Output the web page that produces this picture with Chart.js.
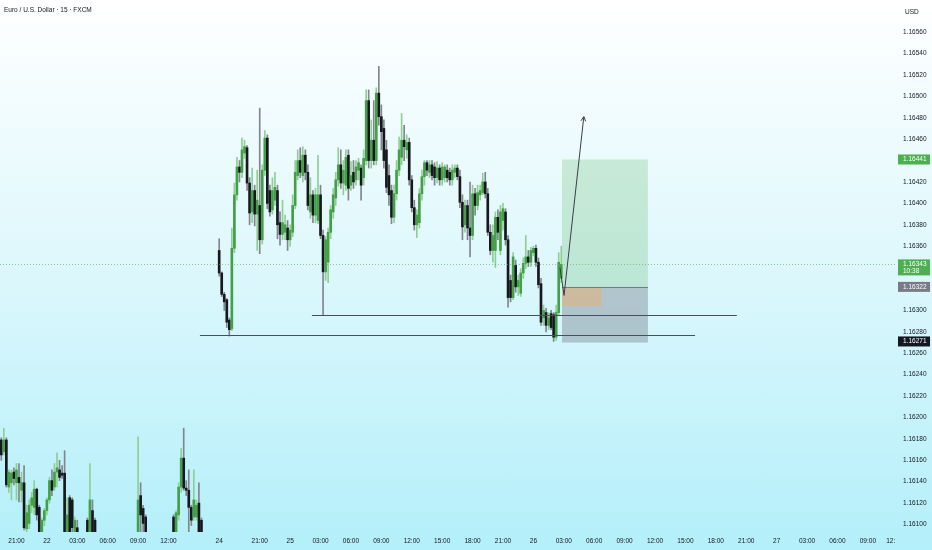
<!DOCTYPE html>
<html>
<head>
<meta charset="utf-8">
<script src="https://cdn.jsdelivr.net/npm/chart.js@4/dist/chart.umd.min.js"></script>
<style>
  html, body { margin: 0; padding: 0; }
  body {
    width: 932px; height: 550px; overflow: hidden;
    background: linear-gradient(to bottom, #ffffff 0%, #e0f8fc 45%, #b3effa 100%);
  }
  canvas { display: block; }
</style>
</head>
<body>
<canvas id="chart" width="932" height="550"></canvas>
<script>
// EUR/USD 15m, FXCM - свечи
const gap = n => Array(n).fill(null);

const opens = [
  1.16179, 1.16168, 1.16179, 1.16135, 1.16139, 1.16149, 1.16139, 1.16144, 1.16132, 1.16139,
  1.16096, 1.16101, 1.16118, 1.16116, 1.16133, 1.16116, 1.16085, 1.16104, 1.16113, 1.16123,
  1.16141, 1.16135, 1.16149, 1.16151, 1.16148, 1.16148, 1.16085, 1.16125, 1.16123, 1.16085,
  1.16097, ...gap(3), 1.16104, 1.16081, 1.16113, 1.16104, ...gap(16),
  1.16081, 1.16127, 1.16115, 1.16107, ...gap(10), 1.16107, 1.16081,
  1.16109, 1.16135, 1.16162, 1.16134, 1.16132, 1.16116, 1.16107, 1.16107, 1.16120, 1.16104,
  ...gap(6), 1.16356, 1.16335, 1.16315, 1.16310,
  1.16291, 1.16283, 1.16358, 1.16408, 1.16434, 1.16429, 1.16447, 1.16452, 1.16419, 1.16392,
  1.16412, 1.16390, 1.16398, 1.16366, 1.16431, 1.16461, 1.16412, 1.16394, 1.16403, 1.16412,
  1.16382, 1.16371, 1.16373, 1.16377, 1.16366, 1.16373, 1.16398, 1.16426, 1.16440, 1.16426,
  1.16445, 1.16429, 1.16392, 1.16408, 1.16389, 1.16384, 1.16408, 1.16370, 1.16336, 1.16345,
  1.16373, 1.16392, 1.16405, 1.16422, 1.16436, 1.16419, 1.16417, 1.16445, 1.16417, 1.16429,
  1.16422, 1.16431, 1.16433, 1.16424, 1.16440, 1.16496, 1.16440, 1.16459, 1.16440, 1.16503,
  1.16481, 1.16470, 1.16450, 1.16426, 1.16412, 1.16387, 1.16409, 1.16431, 1.16443, 1.16459,
  1.16450, 1.16457, 1.16422, 1.16396, 1.16380, 1.16382, 1.16409, 1.16425, 1.16438, 1.16429,
  1.16436, 1.16434, 1.16424, 1.16433, 1.16422, 1.16424, 1.16431, 1.16429, 1.16422, 1.16429,
  1.16433, 1.16425, 1.16401, 1.16380, 1.16398, 1.16377, 1.16370, 1.16409, 1.16398, 1.16408,
  1.16410, 1.16420, 1.16409, 1.16373, 1.16356, 1.16356, 1.16387, 1.16356, 1.16384, 1.16392,
  1.16366, 1.16328, 1.16312, 1.16342, 1.16322, 1.16316, 1.16335, 1.16344, 1.16350, 1.16345,
  1.16354, 1.16358, 1.16345, 1.16325, 1.16293, 1.16298, 1.16286, 1.16297, 1.16296, 1.16275,
  1.16298, 1.16330
];

const highs = [
  1.16181, 1.16190, 1.16181, 1.16151, 1.16151, 1.16153, 1.16157, 1.16157, 1.16149, 1.16155,
  1.16118, 1.16123, 1.16130, 1.16141, 1.16134, 1.16118, 1.16106, 1.16115, 1.16125, 1.16144,
  1.16151, 1.16157, 1.16167, 1.16160, 1.16155, 1.16169, 1.16125, 1.16127, 1.16125, 1.16107,
  1.16104, ...gap(3), 1.16106, 1.16157, 1.16123, 1.16106, ...gap(16),
  1.16182, 1.16139, 1.16118, 1.16109, ...gap(10), 1.16109, 1.16113,
  1.16139, 1.16171, 1.16190, 1.16141, 1.16151, 1.16118, 1.16151, 1.16123, 1.16139, 1.16106,
  ...gap(6), 1.16367, 1.16336, 1.16317, 1.16311,
  1.16293, 1.16377, 1.16419, 1.16443, 1.16440, 1.16461, 1.16459, 1.16454, 1.16424, 1.16433,
  1.16417, 1.16431, 1.16489, 1.16436, 1.16468, 1.16464, 1.16417, 1.16424, 1.16429, 1.16417,
  1.16392, 1.16403, 1.16389, 1.16384, 1.16380, 1.16408, 1.16440, 1.16450, 1.16452, 1.16453,
  1.16450, 1.16436, 1.16424, 1.16412, 1.16414, 1.16445, 1.16417, 1.16375, 1.16369, 1.16377,
  1.16398, 1.16414, 1.16429, 1.16452, 1.16450, 1.16440, 1.16450, 1.16450, 1.16439, 1.16440,
  1.16440, 1.16442, 1.16436, 1.16450, 1.16506, 1.16506, 1.16478, 1.16496, 1.16508, 1.16528,
  1.16492, 1.16478, 1.16459, 1.16436, 1.16417, 1.16417, 1.16440, 1.16462, 1.16484, 1.16473,
  1.16464, 1.16461, 1.16426, 1.16403, 1.16394, 1.16414, 1.16431, 1.16440, 1.16440, 1.16440,
  1.16440, 1.16438, 1.16439, 1.16436, 1.16438, 1.16436, 1.16436, 1.16433, 1.16436, 1.16436,
  1.16436, 1.16431, 1.16408, 1.16403, 1.16403, 1.16420, 1.16417, 1.16414, 1.16417, 1.16417,
  1.16428, 1.16429, 1.16414, 1.16380, 1.16380, 1.16392, 1.16394, 1.16398, 1.16400, 1.16395,
  1.16370, 1.16333, 1.16354, 1.16347, 1.16333, 1.16339, 1.16349, 1.16370, 1.16356, 1.16359,
  1.16360, 1.16361, 1.16349, 1.16330, 1.16305, 1.16302, 1.16298, 1.16300, 1.16298, 1.16305,
  1.16354, 1.16360
];

const lows = [
  1.16160, 1.16165, 1.16135, 1.16130, 1.16123, 1.16137, 1.16123, 1.16121, 1.16121, 1.16095,
  1.16093, 1.16096, 1.16111, 1.16109, 1.16104, 1.16081, 1.16081, 1.16099, 1.16109, 1.16120,
  1.16127, 1.16132, 1.16135, 1.16141, 1.16143, 1.16081, 1.16081, 1.16081, 1.16090, 1.16081,
  1.16081, ...gap(3), 1.16081, 1.16078, 1.16081, 1.16078, ...gap(16),
  1.16078, 1.16085, 1.16081, 1.16078, ...gap(10), 1.16078, 1.16078,
  1.16104, 1.16130, 1.16132, 1.16127, 1.16085, 1.16099, 1.16104, 1.16104, 1.16081, 1.16078,
  ...gap(6), 1.16332, 1.16313, 1.16300, 1.16284,
  1.16276, 1.16281, 1.16354, 1.16403, 1.16420, 1.16424, 1.16442, 1.16412, 1.16380, 1.16382,
  1.16379, 1.16356, 1.16353, 1.16362, 1.16426, 1.16395, 1.16388, 1.16390, 1.16398, 1.16367,
  1.16361, 1.16366, 1.16366, 1.16356, 1.16360, 1.16369, 1.16395, 1.16422, 1.16424, 1.16420,
  1.16422, 1.16394, 1.16386, 1.16382, 1.16382, 1.16381, 1.16367, 1.16296, 1.16328, 1.16326,
  1.16367, 1.16386, 1.16398, 1.16416, 1.16414, 1.16408, 1.16412, 1.16403, 1.16412, 1.16414,
  1.16417, 1.16422, 1.16403, 1.16417, 1.16436, 1.16433, 1.16433, 1.16436, 1.16436, 1.16473,
  1.16450, 1.16433, 1.16410, 1.16398, 1.16381, 1.16382, 1.16403, 1.16426, 1.16436, 1.16440,
  1.16442, 1.16417, 1.16392, 1.16375, 1.16368, 1.16377, 1.16403, 1.16417, 1.16426, 1.16424,
  1.16422, 1.16417, 1.16419, 1.16417, 1.16417, 1.16420, 1.16420, 1.16417, 1.16417, 1.16424,
  1.16422, 1.16396, 1.16366, 1.16373, 1.16366, 1.16350, 1.16366, 1.16389, 1.16394, 1.16403,
  1.16408, 1.16405, 1.16370, 1.16352, 1.16345, 1.16340, 1.16366, 1.16352, 1.16375, 1.16361,
  1.16303, 1.16308, 1.16310, 1.16317, 1.16314, 1.16313, 1.16330, 1.16339, 1.16341, 1.16341,
  1.16351, 1.16341, 1.16321, 1.16286, 1.16286, 1.16280, 1.16282, 1.16282, 1.16271, 1.16272,
  1.16296, 1.16326
];

const closes = [
  1.16165, 1.16179, 1.16137, 1.16149, 1.16148, 1.16143, 1.16151, 1.16139, 1.16139, 1.16097,
  1.16111, 1.16118, 1.16125, 1.16133, 1.16109, 1.16085, 1.16104, 1.16113, 1.16123, 1.16141,
  1.16132, 1.16149, 1.16153, 1.16144, 1.16146, 1.16092, 1.16109, 1.16085, 1.16097, 1.16104,
  1.16085, ...gap(3), 1.16085, 1.16123, 1.16085, 1.16081, ...gap(16),
  1.16123, 1.16109, 1.16101, 1.16081, ...gap(10), 1.16081, 1.16111,
  1.16135, 1.16162, 1.16134, 1.16132, 1.16116, 1.16104, 1.16123, 1.16118, 1.16092, 1.16081,
  ...gap(6), 1.16335, 1.16315, 1.16308, 1.16289,
  1.16282, 1.16358, 1.16408, 1.16434, 1.16429, 1.16450, 1.16453, 1.16419, 1.16391, 1.16412,
  1.16390, 1.16403, 1.16366, 1.16431, 1.16461, 1.16400, 1.16392, 1.16412, 1.16415, 1.16380,
  1.16371, 1.16382, 1.16380, 1.16366, 1.16375, 1.16398, 1.16429, 1.16440, 1.16429, 1.16445,
  1.16429, 1.16398, 1.16408, 1.16389, 1.16408, 1.16408, 1.16370, 1.16336, 1.16366, 1.16373,
  1.16394, 1.16408, 1.16422, 1.16436, 1.16419, 1.16431, 1.16443, 1.16414, 1.16426, 1.16420,
  1.16434, 1.16438, 1.16417, 1.16442, 1.16496, 1.16440, 1.16459, 1.16440, 1.16503, 1.16481,
  1.16467, 1.16440, 1.16415, 1.16408, 1.16387, 1.16409, 1.16431, 1.16450, 1.16459, 1.16453,
  1.16457, 1.16422, 1.16396, 1.16380, 1.16389, 1.16409, 1.16425, 1.16438, 1.16431, 1.16436,
  1.16426, 1.16424, 1.16433, 1.16422, 1.16434, 1.16434, 1.16424, 1.16422, 1.16431, 1.16433,
  1.16425, 1.16401, 1.16378, 1.16398, 1.16377, 1.16370, 1.16409, 1.16398, 1.16410, 1.16412,
  1.16420, 1.16409, 1.16373, 1.16356, 1.16370, 1.16387, 1.16373, 1.16392, 1.16395, 1.16366,
  1.16312, 1.16312, 1.16350, 1.16322, 1.16328, 1.16335, 1.16344, 1.16350, 1.16345, 1.16356,
  1.16358, 1.16345, 1.16324, 1.16289, 1.16300, 1.16286, 1.16293, 1.16284, 1.16275, 1.16298,
  1.16345, 1.16343
];

// подписи оси времени: индекс свечи -> текст
const slotCount = 354;
const timeTickIdx = [6, 18, 30, 42, 54, 66, 86, 102, 114, 126, 138, 150, 162, 174, 186, 198, 210,
                     222, 234, 246, 258, 270, 282, 294, 306, 318, 330, 342, 351];
const timeTickText = ['21:00', '22', '03:00', '06:00', '09:00', '12:00', '24', '21:00', '25', '03:00',
                      '06:00', '09:00', '12:00', '15:00', '18:00', '21:00', '26', '03:00', '06:00',
                      '09:00', '12:00', '15:00', '18:00', '21:00', '27', '03:00', '06:00', '09:00', '12:'];
const topPriceTick = 1.16560;

// разметка на графике (индекс свечи, цена)
const levelLines = [
  { from: 78.4, to: 273.8, price: 1.16277 },
  { from: 122.6, to: 290.3, price: 1.16296 }
];
const longPos = { from: 221.3, to: 255.2, target: 1.16441, entry: 1.16322, stop: 1.16270, pnlTo: 237, pnlPrice: 1.16304 };
const arrowPath = [[220.5, 1.16340], [222.1, 1.16314], [229.9, 1.16481]];
const lastPrice = 1.16343;
const priceTags = [
  { price: 1.16441, text: '1.16441', bg: '#4caf50' },
  { price: 1.16343, text: '1.16343', sub: '10:38', bg: '#4caf50' },
  { price: 1.16322, text: '1.16322', bg: '#787b86' },
  { price: 1.16271, text: '1.16271', bg: '#131722' }
];

const FONT = "'Liberation Sans', Arial, sans-serif";
const TEXT = '#131722';

const xLabels = Array(slotCount).fill('');
timeTickIdx.forEach((idx, k) => { xLabels[idx] = timeTickText[k]; });

const isUp = opens.map((o, i) => o != null && closes[i] >= o);
const wickData = highs.map((h, i) => h == null ? null : [lows[i], h]);
const bodyData = opens.map((o, i) => o == null ? null : [Math.min(o, closes[i]), Math.max(o, closes[i])]);

const overlay = {
  id: 'overlay',
  beforeDatasetsDraw(chart) {
    const { ctx, scales: { x, y } } = chart;
    const x0 = x.getPixelForValue(longPos.from), x1 = x.getPixelForValue(longPos.to);
    const yT = y.getPixelForValue(longPos.target), yE = y.getPixelForValue(longPos.entry), yS = y.getPixelForValue(longPos.stop);
    ctx.save();
    ctx.fillStyle = 'rgba(76,175,80,0.22)';
    ctx.fillRect(x0, yT, x1 - x0, yE - yT);
    ctx.fillStyle = 'rgba(110,115,128,0.38)';
    ctx.fillRect(x0, yE, x1 - x0, yS - yE);
    ctx.fillStyle = 'rgba(255,170,70,0.35)';
    const xp = x.getPixelForValue(longPos.pnlTo);
    ctx.fillRect(x0, yE, xp - x0, y.getPixelForValue(longPos.pnlPrice) - yE);
    ctx.strokeStyle = 'rgba(100,105,115,0.8)';
    ctx.lineWidth = 1;
    ctx.beginPath();
    ctx.moveTo(x0, Math.round(yE) + 0.5); ctx.lineTo(x1, Math.round(yE) + 0.5);
    ctx.stroke();
    ctx.restore();
  },
  afterDatasetsDraw(chart) {
    const { ctx, chartArea, scales: { x, y } } = chart;
    ctx.save();
    // уровни
    ctx.strokeStyle = '#4a4e59';
    ctx.lineWidth = 1;
    levelLines.forEach(l => {
      const py = Math.round(y.getPixelForValue(l.price)) + 0.5;
      ctx.beginPath();
      ctx.moveTo(x.getPixelForValue(l.from), py);
      ctx.lineTo(x.getPixelForValue(l.to), py);
      ctx.stroke();
    });
    // линия текущей цены
    const lp = Math.round(y.getPixelForValue(lastPrice)) + 0.5;
    ctx.strokeStyle = 'rgba(90,160,100,0.6)';
    ctx.setLineDash([1, 2]);
    ctx.beginPath();
    ctx.moveTo(chartArea.left, lp); ctx.lineTo(chartArea.right, lp);
    ctx.stroke();
    ctx.setLineDash([]);
    // стрелка
    ctx.strokeStyle = '#3a3d46';
    ctx.beginPath();
    arrowPath.forEach(([i, p], k) => {
      const px = x.getPixelForValue(i), py = y.getPixelForValue(p);
      k ? ctx.lineTo(px, py) : ctx.moveTo(px, py);
    });
    ctx.stroke();
    const [ai, ap] = arrowPath[arrowPath.length - 1];
    const [bi, bp] = arrowPath[arrowPath.length - 2];
    const ax = x.getPixelForValue(ai), ay = y.getPixelForValue(ap);
    const ang = Math.atan2(ay - y.getPixelForValue(bp), ax - x.getPixelForValue(bi));
    ctx.beginPath();
    ctx.moveTo(ax - 5 * Math.cos(ang - 0.5), ay - 5 * Math.sin(ang - 0.5));
    ctx.lineTo(ax, ay);
    ctx.lineTo(ax - 5 * Math.cos(ang + 0.5), ay - 5 * Math.sin(ang + 0.5));
    ctx.stroke();
    ctx.restore();
  },
  afterDraw(chart) {
    const { ctx, chartArea, scales: { y } } = chart;
    ctx.save();
    ctx.fillStyle = TEXT;
    ctx.font = '6.5px ' + FONT;
    ctx.textBaseline = 'middle';
    ctx.textAlign = 'left';
    ctx.fillText('Euro / U.S. Dollar \u00b7 15 \u00b7 FXCM', 4, 10);
    ctx.fillText('USD', chartArea.right + 8, 12);
    // плашки цен на шкале
    priceTags.forEach(t => {
      const py = y.getPixelForValue(t.price);
      const h = t.sub ? 16 : 10;
      ctx.fillStyle = t.bg;
      ctx.fillRect(chartArea.right + 1, py - 5, 32, h);
      ctx.fillStyle = '#ffffff';
      ctx.fillText(t.text, chartArea.right + 6, py);
      if (t.sub) ctx.fillText(t.sub, chartArea.right + 6, py + 7);
    });
    ctx.restore();
  }
};

new Chart(document.getElementById('chart'), {
  type: 'bar',
  data: {
    labels: xLabels,
    datasets: [
      {
        label: 'wick',
        data: wickData,
        grouped: false,
        barThickness: 1,
        backgroundColor: isUp.map(u => u ? '#8fcf92' : '#80858f'),
        order: 2
      },
      {
        label: 'body',
        data: bodyData,
        grouped: false,
        barThickness: 2,
        minBarLength: 1,
        backgroundColor: isUp.map(u => u ? '#43a047' : '#16181d'),
        order: 1
      }
    ]
  },
  options: {
    responsive: false,
    animation: false,
    devicePixelRatio: 1,
    layout: { padding: 0 },
    plugins: { legend: { display: false }, tooltip: { enabled: false }, title: { display: false } },
    scales: {
      x: {
        offset: true,
        grid: { display: false, drawTicks: false },
        border: { display: false },
        ticks: { autoSkip: false, maxRotation: 0, minRotation: 0, padding: 5, color: TEXT, font: { family: FONT, size: 6.5 } },
        afterFit(s) { s.height = 18; s.paddingLeft = 0; s.paddingRight = 0; }
      },
      y: {
        position: 'right',
        min: 1.16093,
        max: 1.16590,
        grid: { display: false, drawTicks: false },
        border: { display: false },
        ticks: {
          stepSize: 0.0002,
          includeBounds: false,
          padding: 6,
          color: TEXT,
          font: { family: FONT, size: 6.5 },
          callback: v => v > topPriceTick + 0.00005 ? '' : v.toFixed(5)
        },
        afterFit(s) { s.width = 35; s.paddingTop = 0; s.paddingBottom = 0; }
      }
    }
  },
  plugins: [overlay]
});
</script>
</body>
</html>
